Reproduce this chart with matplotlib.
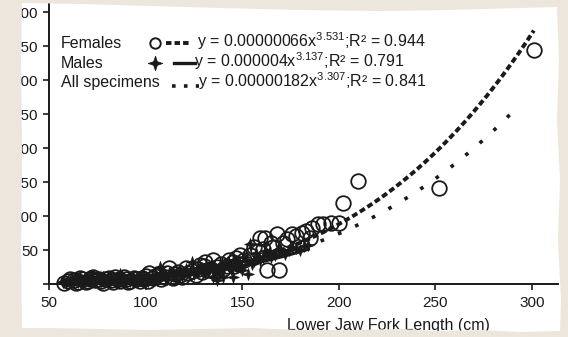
import numpy as np
import matplotlib
matplotlib.use('Agg')
import matplotlib.pyplot as plt
from matplotlib.path import Path
from matplotlib.patches import PathPatch

plt.rcParams['font.family'] = ['Liberation Sans', 'DejaVu Sans']
plt.rcParams['mathtext.fontset'] = 'custom'
plt.rcParams['mathtext.rm'] = 'Liberation Sans'
plt.rcParams['mathtext.it'] = 'Liberation Sans:italic'
plt.rcParams['mathtext.bf'] = 'Liberation Sans:bold'

# ---------------- data ----------------
female_x = [58, 60, 61, 63, 64, 65, 66, 67, 69, 70, 71, 72, 73, 74, 76, 77, 78, 79, 81, 82,
            83, 84, 86, 87, 89, 90, 91, 92, 94, 95, 97, 98, 99, 100, 101, 102, 104, 105, 107, 108,
            110, 111, 112, 114, 115, 117, 118, 119, 121, 122, 124, 126, 127, 128, 129, 130, 131, 132, 134, 135,
            136, 137, 139, 140, 142, 143, 145, 146, 147, 148, 149, 151, 154, 156,
            158, 159, 161, 162, 163, 165, 166, 168, 169, 171, 173, 176, 178, 181, 183, 185, 186, 189, 192, 196,
            200, 202, 210, 252, 301]
female_y = [2, 4, 7, 6, 2, 3, 9, 8, 3, 5, 7, 9, 10, 6, 8, 4, 2, 8, 9, 6,
            3, 10, 7, 5, 10, 8, 3, 4, 9, 7, 4, 9, 7, 12, 4, 16, 9, 12, 14, 7,
            11, 16, 23, 9, 15, 18, 13, 10, 23, 16, 19, 13, 22, 28, 17, 27, 32, 20, 22, 35,
            18, 25, 30, 22, 27, 36, 33, 27, 38, 30, 42, 36, 42, 54,
            48, 68, 52, 67, 20, 60, 54, 74, 20, 61, 66, 74, 70, 75, 78, 68, 83, 88, 88, 90,
            90, 119, 151, 141, 344]

male_x = [57, 58, 59, 61, 62, 63, 64, 65, 66, 67, 68, 69, 70, 71, 72, 73, 74, 75, 77, 78,
          80, 81, 82, 84, 85, 86, 87, 88, 89, 90, 92, 93, 94, 96, 97, 99, 100, 101, 102, 104,
          105, 106, 107.5, 109, 110, 111, 112, 114, 115, 116, 118, 119, 120, 121, 123, 124, 125, 127, 128, 130,
          131, 133, 134, 135, 136, 137, 138, 139, 140, 141, 143, 144, 145, 146, 147, 148, 149, 150, 151, 152,
          153, 154, 155, 156, 157, 158, 159, 161, 162, 164, 165, 167, 169, 170, 172, 174, 176, 178, 180, 182, 184]
male_y = [3, 5, 2, 5, 8, 4, 6, 3, 10, 6, 4, 8, 6, 12, 9, 5, 3, 7, 4, 10,
          6, 5, 9, 8, 5, 3, 15, 12, 7, 6, 4, 10, 8, 4, 6, 12, 9, 5, 7, 9,
          13, 6, 25, 14, 10, 8, 16, 18, 12, 8, 19, 12, 15, 22, 18, 32, 14, 17, 25, 22,
          16, 20, 28, 10, 20, 6, 18, 24, 10, 30, 26, 22, 10, 35, 28, 30, 25, 20, 40, 36,
          14, 59, 30, 34, 45, 38, 36, 40, 48, 45, 40, 42, 52, 48, 44, 50, 55, 53, 50, 56, 58]

# fitted power curves printed on the chart: y = a * x^b
fit_female = (0.00000066, 3.531, 0.944)
fit_male = (0.000004, 3.137, 0.791)
fit_all = (0.00000182, 3.307, 0.841)
range_female = (60, 301)
range_male = (57, 185)
range_all = (57, 292)

x_ticks = [50, 100, 150, 200, 250, 300]
y_ticks = [0, 50, 100, 150, 200, 250, 300, 350, 400]
y_ticklabels = [''] + [str(v) for v in y_ticks[1:]]
x_label = 'Lower Jaw Fork Length (cm)'
names = ['Females', 'Males', 'All specimens']
equations = [r'y = 0.00000066x$^{3.531}$;R² = 0.944',
             r'y = 0.000004x$^{3.137}$;R² = 0.791',
             r'y = 0.00000182x$^{3.307}$;R² = 0.841']

# ---------------- figure ----------------
W, H = 568, 337
BEIGE = '#ECE6DC'
INK = '#1a1a1a'
fig = plt.figure(figsize=(W / 100, H / 100), dpi=100, facecolor='white')
ax = fig.add_axes([49 / W, 1 - 284 / H, 509 / W, 284 / H])
ax.set_facecolor('white')
ax.set_xlim(50, 313.5)
ax.set_ylim(0, 284 / 0.68)

ang = np.deg2rad(np.arange(0, 360, 45) + 90)
rad = np.array([1.0, 0.36] * 4)
star = np.column_stack([rad * np.cos(ang), rad * np.sin(ang)])
star = np.vstack([star, star[:1]])

ax.plot(female_x, female_y, ls='none', marker='o', ms=10.5, mfc='none', mec=INK, mew=1.3, zorder=2,
        clip_on=False)
ax.plot(male_x, male_y, ls='none', marker=star, ms=8.5, mfc=INK, mec=INK, mew=0.5, zorder=3,
        clip_on=False)

def curve(fit, rng, n=300):
    a, b, _ = fit
    xs = np.linspace(rng[0], rng[1], n)
    return xs, a * xs ** b

xs, ys = curve(fit_female, range_female)
ax.plot(xs, ys, color=INK, lw=2.8, ls=(0, (1.5, 0.8)), dash_capstyle='butt', zorder=4)
xs, ys = curve(fit_male, range_male)
ax.plot(xs, ys, color=INK, lw=2.3, ls='-', solid_capstyle='butt', zorder=4)
xs, ys = curve(fit_all, range_all)
ax.plot(xs, ys, color=INK, lw=2.6, ls=(0, (1.0, 4.2)), dash_capstyle='butt', zorder=4)

# axes styling
for s in ['top', 'right']:
    ax.spines[s].set_visible(False)
for s in ['left', 'bottom']:
    ax.spines[s].set_linewidth(1.4)
    ax.spines[s].set_color(INK)
ax.set_xticks(x_ticks)
ax.set_yticks(y_ticks)
ax.set_yticklabels(y_ticklabels)
ax.tick_params(axis='both', direction='out', length=4.5, width=1.2, labelsize=11,
               colors=INK)
ax.tick_params(axis='x', pad=4)
ax.tick_params(axis='y', pad=3.5)
ax.set_xlabel(x_label, fontsize=11.5, color=INK)
ax.xaxis.set_label_coords(0.666, -0.118)

# legend block drawn in axes coordinates
def axp(px, py):
    return ((px - 49) / 509, (284 - py) / 284)

baselines = [47.5, 67.5, 87.5]
centers = [42.5, 62.5, 82.5]
for name, eq, bl, ex in zip(names, equations, baselines, [197, 194, 198]):
    ax.text(*axp(61, bl), name, transform=ax.transAxes, fontsize=11.5, color=INK, va='baseline')
    ax.text(*axp(ex, bl), eq, transform=ax.transAxes, fontsize=11.5, color=INK, va='baseline')

tx, ty = axp(155, centers[0])
ax.plot([tx], [ty], transform=ax.transAxes, marker='o', ms=7.5, mfc='none', mec=INK, mew=1.4,
        clip_on=False)
x0, y0 = axp(166, centers[0]); x1, _ = axp(191, centers[0])
ax.plot([x0, x1], [y0, y0], transform=ax.transAxes, color=INK, lw=2.8, ls=(0, (1.4, 0.8)),
        dash_capstyle='butt', clip_on=False)
tx, ty = axp(155, centers[1])
ax.plot([tx], [ty], transform=ax.transAxes, marker=star, ms=10.5, mfc=INK, mec=INK, mew=0.5,
        clip_on=False)
x0, y0 = axp(174, centers[1]); x1, _ = axp(195, centers[1])
ax.plot([x0, x1], [y0, y0], transform=ax.transAxes, color=INK, lw=2.4, clip_on=False)
x0, y0 = axp(171.5, 85.5); x1, _ = axp(199, 85.5)
ax.plot([x0, x1], [y0, y0], transform=ax.transAxes, color=INK, lw=2.6, ls=(0, (1.0, 2.3)),
        dash_capstyle='butt', clip_on=False)

# beige scanned-page frame around the white paper (drawn on top)
inner = [(22, 3), (80, 4), (150, 6), (220, 8), (300, 10), (380, 11), (450, 10), (520, 8), (557, 7),
         (559, 60), (557, 120), (560, 180), (558, 240), (561, 300), (560, 331),
         (520, 332), (480, 330), (440, 331), (400, 329), (350, 330), (300, 330), (250, 328),
         (200, 329), (150, 330), (100, 329), (50, 328), (22, 328),
         (21, 250), (22, 150), (21, 60)]
outer = [(-5, -5), (W + 5, -5), (W + 5, H + 5), (-5, H + 5)]
inner_rev = inner[::-1]
verts = outer + [outer[0]] + inner_rev + [inner_rev[0]]
codes = ([Path.MOVETO] + [Path.LINETO] * (len(outer) - 1) + [Path.CLOSEPOLY] +
         [Path.MOVETO] + [Path.LINETO] * (len(inner_rev) - 1) + [Path.CLOSEPOLY])
verts = [(px / W, 1 - py / H) for px, py in verts]
frame = PathPatch(Path(verts, codes), transform=fig.transFigure, facecolor=BEIGE,
                  edgecolor='none', zorder=100)
fig.add_artist(frame)

fig.savefig('out.png', dpi=100, facecolor=fig.get_facecolor())
